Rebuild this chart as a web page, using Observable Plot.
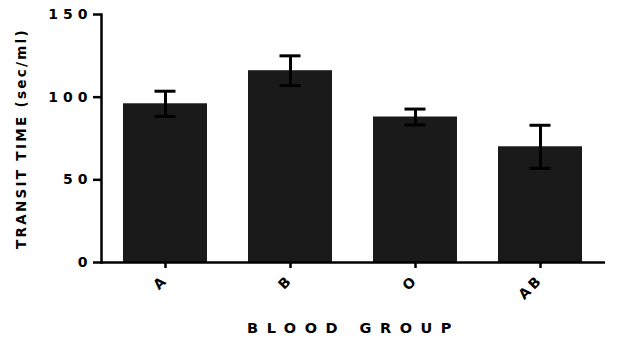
<!DOCTYPE html>
<html><head><meta charset="utf-8">
<script src="https://cdn.jsdelivr.net/npm/d3@7"></script>
<script src="https://cdn.jsdelivr.net/npm/@observablehq/plot@0.6"></script>
<style>
body{margin:0;background:#fff;}
svg{font-family:"DejaVu Sans",sans-serif;}
</style></head>
<body><div id="chart"></div>
<script>
const groups = ["A","B","O","AB"];
const means = [96, 116, 88, 70];
const errors = [7.6, 9, 4.8, 13];
const yTicks = [0, 50, 100, 150];

const data = groups.map((g,i)=>({group:g, mean:means[i], lo:means[i]-errors[i], hi:means[i]+errors[i]}));

const chart = Plot.plot({
  width: 639, height: 339,
  marginLeft: 101, marginRight: 34, marginTop: 14, marginBottom: 77,
  style: {fontFamily: '"DejaVu Sans", sans-serif', background: "#fff"},
  x: {domain: groups, paddingInner: 0.325, paddingOuter: 0.167, label: null},
  y: {domain: [0,150], label: null},
  marks: [
    Plot.barY(data, {x:"group", y:"mean", fill:"#1a1a1a"}),
    Plot.ruleX(data, {x:"group", y1:"lo", y2:"hi", stroke:"#000", strokeWidth:3}),
    Plot.tickY(data, {x:"group", y:"lo", stroke:"#000", strokeWidth:3, insetLeft:31.5, insetRight:31.5}),
    Plot.tickY(data, {x:"group", y:"hi", stroke:"#000", strokeWidth:3, insetLeft:31.5, insetRight:31.5}),
    Plot.frame({anchor:"left", stroke:"#000", strokeWidth:2.5}),
    Plot.ruleY([0], {stroke:"#000", strokeWidth:2.5}),
    Plot.axisY({ticks: yTicks, tickSize: 8, tickPadding: 1, strokeWidth: 2.5, label: "TRANSIT TIME (sec/ml)", labelAnchor:"center", labelOffset: 85,
      fontSize: 14, fontWeight: "bold"}),
    Plot.axisX({tickSize: 6, strokeWidth: 2.5, tickRotate: -45, tickPadding: 9, fontSize: 14, fontWeight:"bold",
      label: "BLOOD GROUP", labelAnchor: "center", labelOffset: 70})
  ]
});
document.getElementById("chart").appendChild(chart);
const svg = d3.select(chart);
svg.selectAll('[aria-label="y-axis tick label"] text').style("letter-spacing","5px").style("font-weight","bold");
svg.selectAll('[aria-label="x-axis tick label"] text').style("letter-spacing","3px").style("font-weight","bold");
svg.selectAll('[aria-label="y-axis label"] text').text("TRANSIT TIME (sec/ml)").style("letter-spacing","2.3px").style("font-weight","bold").style("font-size","13.5px").attr("fill","#000");
svg.selectAll('[aria-label="x-axis label"] text').text("BLOOD GROUP").style("letter-spacing","8.5px").style("font-weight","bold").style("font-size","14.5px").attr("fill","#000");
</script></body></html>
